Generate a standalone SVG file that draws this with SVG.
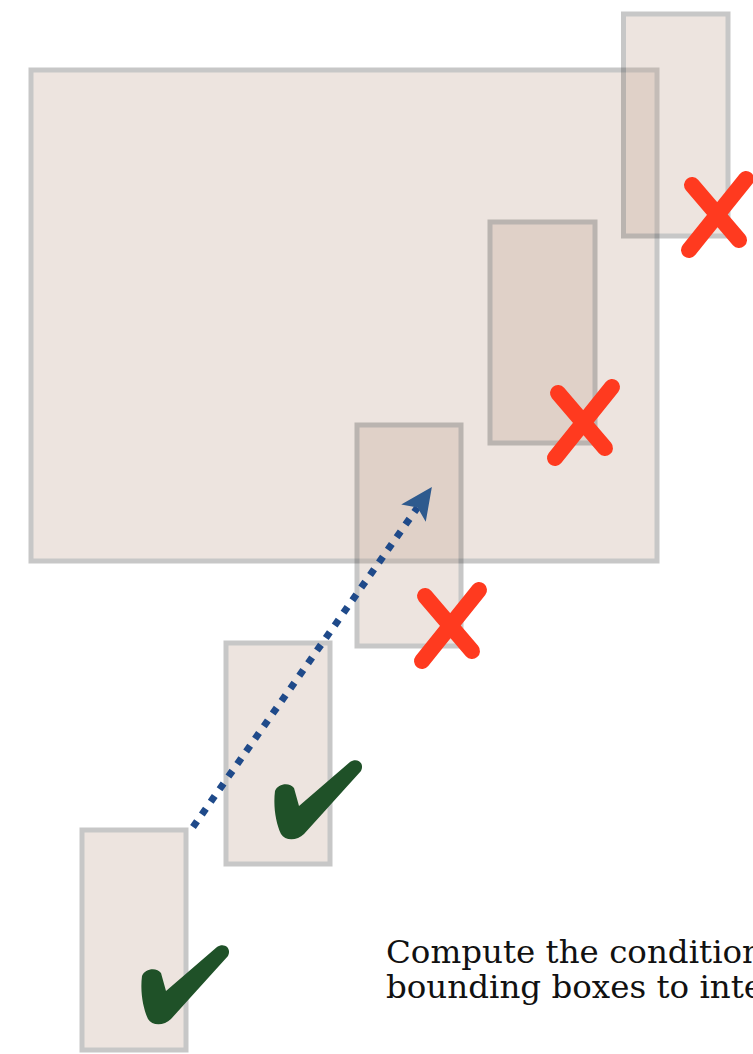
<svg xmlns="http://www.w3.org/2000/svg" xmlns:xlink="http://www.w3.org/1999/xlink" width="753" height="1054" viewBox="0 0 753 1054">
<style>
.box{fill:#bfa290;stroke:#3a3a3a;stroke-width:5;opacity:0.28}
.cross{fill:none;stroke:#ff3a1f;stroke-width:16;stroke-linecap:round}
.check{fill:#1f5128}
.conn{fill:none;stroke:#1f4a8a;stroke-width:7;stroke-dasharray:7 8.4}
.label{font-family:"DejaVu Serif","Liberation Serif",serif;font-size:32.5px;fill:#111}
</style>
<defs>
<marker id="ah" markerUnits="userSpaceOnUse" viewBox="0 -16 34 32" refX="7" refY="0" markerWidth="34" markerHeight="32" orient="auto">
<path d="M0,-15 L32,0 L0,15 L7,0 Z" fill="#2e5a8e"/>
</marker>
<path id="crossShape" d="M-25,-28 L22,27 M29,-34 L-28,37"/>
<path id="checkShape" d="M5,36 C8,28 20,27 24,33 L29,51 L80,7 C87,2 95,8 91,16 L34,79 C27,86 15,86 11,79 C6,68 3,52 5,36 Z"/>
</defs>
<g id="big-box"><rect class="box" x="31" y="70" width="626" height="491"/></g>
<g id="box1"><rect class="box" x="623.5" y="14" width="104.5" height="222"/></g>
<g id="box2"><rect class="box" x="490" y="222" width="105" height="221"/></g>
<g id="box3"><rect class="box" x="357" y="425" width="104" height="221"/></g>
<g id="box4"><rect class="box" x="226" y="643" width="104" height="221"/></g>
<g id="box5"><rect class="box" x="82" y="830" width="104" height="220"/></g>
<g id="connectors">
<line class="conn" x1="193" y1="827" x2="417.5" y2="507.5" marker-end="url(#ah)"/>
</g>
<g id="marks">
<use xlink:href="#crossShape" class="cross" transform="translate(717,213)"/>
<use xlink:href="#crossShape" class="cross" transform="translate(583,421)"/>
<use xlink:href="#crossShape" class="cross" transform="translate(450,624)"/>
<use xlink:href="#checkShape" class="check" transform="translate(270,755)"/>
<use xlink:href="#checkShape" class="check" transform="translate(137,940)"/>
</g>
<g id="caption">
<text class="label" x="386" y="963">Compute the condition</text>
<text class="label" x="386" y="998">bounding boxes to inte</text>
</g>
</svg>
